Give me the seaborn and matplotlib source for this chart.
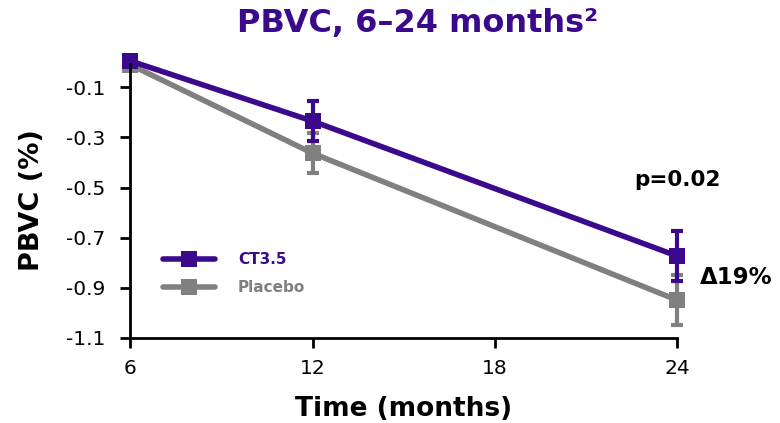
import numpy as np
import pandas as pd
import seaborn as sns
import matplotlib.pyplot as plt
from matplotlib.lines import Line2D

# values
months = [6, 12, 24]
ct35_mean = [0.005, -0.235, -0.773]
ct35_err = [0.0, 0.08, 0.10]
placebo_mean = [-0.01, -0.363, -0.949]
placebo_err = [0.0, 0.08, 0.10]
groups = ['CT3.5', 'Placebo']

purple = '#3b0a8c'
grey = '#808080'

sns.set_style('ticks')
plt.rcParams['font.family'] = ['DejaVu Sans']
plt.rcParams['text.color'] = 'black'
plt.rcParams['axes.labelcolor'] = 'black'
plt.rcParams['axes.edgecolor'] = 'black'

df = pd.DataFrame({
    'month': months * 2,
    'pbvc': ct35_mean + placebo_mean,
    'group': [groups[0]] * 3 + [groups[1]] * 3,
})

fig = plt.figure(figsize=(7.8, 4.23), dpi=100)
ax = fig.add_axes([0.167, 0.201, 0.701, 0.652])

sns.lineplot(data=df, x='month', y='pbvc', hue='group', hue_order=groups[::-1],
             palette={groups[0]: purple, groups[1]: grey}, style='group',
             markers={groups[0]: 's', groups[1]: 's'}, dashes=False,
             linewidth=4, markersize=12, markeredgewidth=0, ax=ax,
             legend=False, clip_on=False)

# error bars (purple drawn on top)
ax.errorbar(months, placebo_mean, yerr=placebo_err, fmt='none', ecolor=grey,
            elinewidth=3, capsize=4, capthick=3, zorder=1.5, clip_on=False)
ax.errorbar(months, ct35_mean, yerr=ct35_err, fmt='none', ecolor=purple,
            elinewidth=3, capsize=4, capthick=3, zorder=3, clip_on=False)
# keep purple line above grey
for ln in ax.lines:
    if ln.get_color() == purple:
        ln.set_zorder(2.5)

ax.set_xlim(6, 24)
ax.set_ylim(-1.1, 0.0)
ax.set_xticks([6, 12, 18, 24])
ax.set_yticks([-0.1, -0.3, -0.5, -0.7, -0.9, -1.1])
ax.set_yticklabels(['-0.1', '-0.3', '-0.5', '-0.7', '-0.9', '-1.1'])
ax.tick_params(axis='both', labelsize=14.5, width=2, length=7, colors='black')
ax.tick_params(axis='y', pad=11)
ax.tick_params(axis='x', pad=8)
for s in ['top', 'right']:
    ax.spines[s].set_visible(False)
for s in ['left', 'bottom']:
    ax.spines[s].set_linewidth(2)

ax.set_xlabel('Time (months)', fontsize=19, fontweight='bold', labelpad=13)
ax.set_ylabel('PBVC (%)', fontsize=19.5, fontweight='bold', labelpad=15)
fig.text(0.535, 0.945, 'PBVC, 6\u201324 months\u00b2', ha='center', va='center',
         fontsize=23, fontweight='bold', color=purple)

# legend
handles = [Line2D([], [], color=purple, lw=4, marker='s', ms=12, mew=0),
           Line2D([], [], color=grey, lw=4, marker='s', ms=12, mew=0)]
leg = ax.legend(handles, groups, loc='center left', bbox_to_anchor=(0.035, 0.232),
                frameon=False, handlelength=3.4, handletextpad=1.5,
                prop={'weight': 'bold', 'size': 11}, labelspacing=0.85)
for t, c in zip(leg.get_texts(), [purple, grey]):
    t.set_color(c)

ax.text(24, -0.47, 'p=0.02', ha='center', va='center', fontsize=15.5,
        fontweight='bold', clip_on=False)
ax.text(24.76, -0.86, '\u039419%', ha='left', va='center', fontsize=16.5,
        fontweight='bold', clip_on=False)

fig.savefig('out.png', dpi=100)
